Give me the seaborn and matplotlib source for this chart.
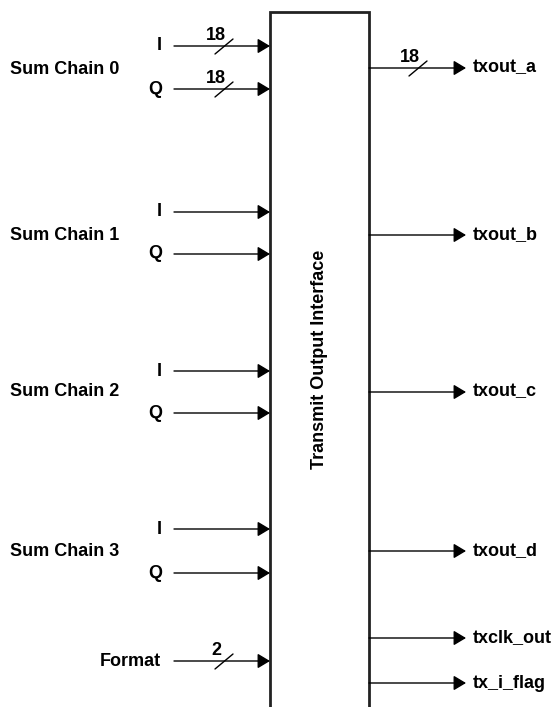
import matplotlib
matplotlib.use("Agg")
import matplotlib.pyplot as plt
import seaborn as sns

# input ports: (label, y) and group labels
chain_names = ["Sum Chain 0", "Sum Chain 1", "Sum Chain 2", "Sum Chain 3"]
chain_label_y = [70, 235, 392, 551]
i_port_y = [46, 212, 371, 529]
q_port_y = [89, 254, 413, 573]
format_y = 661

# bus widths shown on the wires (None = single wire)
i_bus = ["18", None, None, None]
q_bus = ["18", None, None, None]
format_bus = "2"

out_names = ["txout_a", "txout_b", "txout_c", "txout_d", "txclk_out", "tx_i_flag"]
out_y = [68, 235, 392, 551, 638, 683]
out_bus = ["18", None, None, None, None, None]

block_title = "Transmit Output Interface"

W, H = 556, 707
BOX_L, BOX_R, BOX_T = 270, 369, 12
IN_X0 = 174
OUT_X1 = 466
FS = 13

sns.set_theme(style="white")
plt.rcParams["font.family"] = ["Liberation Sans", "DejaVu Sans"]
plt.rcParams["text.color"] = "black"

fig = plt.figure(figsize=(W / 100, H / 100), dpi=100)
ax = fig.add_axes([0, 0, 1, 1])
ax.set_xlim(0, W)
ax.set_ylim(H, 0)
ax.axis("off")

arrow = dict(arrowstyle="-|>,head_length=0.75,head_width=0.45", color="black",
             lw=1.0, shrinkA=0, shrinkB=0, mutation_scale=10)


def wire(x0, x1, y, bus=None, slash_x=None):
    ax.annotate("", xy=(x1, y), xytext=(x0, y), arrowprops=arrow)
    if bus:
        ax.plot([slash_x - 9, slash_x + 9], [y + 8, y - 7], color="black", lw=1.0)
        ax.text(slash_x - 8, y - 2, bus, ha="center", va="bottom",
                fontsize=FS, fontweight="bold")


# block
ax.plot([BOX_L, BOX_L, BOX_R, BOX_R], [H + 5, BOX_T, BOX_T, H + 5],
        color="#222222", lw=2.0, solid_joinstyle="miter")
ax.text(320, 359, block_title, rotation=90, ha="center",
        va="center", fontsize=FS, fontweight="bold")

# inputs
for name, ly, iy, qy, ib, qb in zip(chain_names, chain_label_y, i_port_y,
                                    q_port_y, i_bus, q_bus):
    ax.text(10, ly, name, ha="left", va="center", fontsize=FS, fontweight="bold")
    ax.text(162, iy, "I", ha="right", va="center", fontsize=FS, fontweight="bold")
    ax.text(162, qy, "Q", ha="right", va="center", fontsize=FS, fontweight="bold")
    wire(IN_X0, BOX_L, iy, ib, 224)
    wire(IN_X0, BOX_L, qy, qb, 224)

ax.text(161, format_y, "Format", ha="right", va="center", fontsize=FS,
        fontweight="bold")
wire(IN_X0, BOX_L, format_y, format_bus, 224)

# outputs
for name, y, b in zip(out_names, out_y, out_bus):
    wire(BOX_R, OUT_X1, y, b, 418)
    ax.text(473, y, name, ha="left", va="center", fontsize=FS, fontweight="bold")

fig.savefig("out.png", dpi=100, facecolor="white")
